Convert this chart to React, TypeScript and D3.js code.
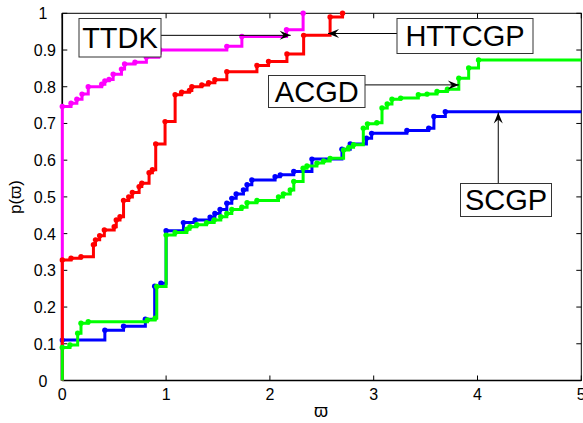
import React, { useEffect, useRef } from "react";
import * as d3 from "d3";

// performance profile data (step points)
const xTicks = [0, 1, 2, 3, 4, 5];
const yTicks = [0, 0.1, 0.2, 0.3, 0.4, 0.5, 0.6, 0.7, 0.8, 0.9, 1];

const ttdkX = [0, 0, 0.084, 0.14, 0.19, 0.25, 0.38, 0.41, 0.45, 0.49, 0.57, 0.6, 0.7, 0.81, 0.93, 0.94, 1.585, 1.73, 2.16, 2.32];
const ttdkY = [0, 0.746, 0.755, 0.766, 0.78, 0.8, 0.807, 0.816, 0.82, 0.834, 0.848, 0.862, 0.867, 0.88, 0.891, 0.9, 0.91, 0.937, 0.955, 1.0];

const httcgpX = [0, 0, 0.084, 0.18, 0.3, 0.32, 0.36, 0.405, 0.5, 0.52, 0.556, 0.59, 0.64, 0.675, 0.74, 0.766, 0.836, 0.868, 0.9, 0.99, 1.087, 1.15, 1.225, 1.248, 1.344, 1.41, 1.47, 1.585, 1.875, 1.987, 2.164, 2.325, 2.58, 2.7];
const httcgpY = [0, 0.328, 0.333, 0.337, 0.37, 0.383, 0.394, 0.41, 0.419, 0.437, 0.446, 0.49, 0.5, 0.512, 0.528, 0.537, 0.566, 0.574, 0.644, 0.705, 0.778, 0.785, 0.79, 0.8, 0.805, 0.811, 0.819, 0.841, 0.858, 0.869, 0.889, 0.94, 0.99, 1.0];

const scgpX = [0, 0, 0.41, 0.59, 0.8, 0.89, 0.95, 1.0, 1.167, 1.28, 1.424, 1.47, 1.52, 1.585, 1.633, 1.675, 1.745, 1.78, 1.826, 2.05, 2.1, 2.23, 2.405, 2.694, 2.774, 2.93, 2.98, 3.32, 3.53, 3.58, 3.69, 5];
const scgpY = [0, 0.11, 0.137, 0.148, 0.167, 0.257, 0.265, 0.408, 0.43, 0.437, 0.445, 0.455, 0.466, 0.483, 0.496, 0.508, 0.519, 0.533, 0.546, 0.555, 0.56, 0.569, 0.603, 0.63, 0.644, 0.66, 0.673, 0.681, 0.687, 0.719, 0.732, 0.732];

const acgdX = [0, 0, 0.074, 0.148, 0.18, 0.25, 0.82, 0.894, 0.91, 1.0, 1.087, 1.2, 1.23, 1.296, 1.39, 1.463, 1.527, 1.585, 1.633, 1.73, 1.78, 1.875, 2.083, 2.13, 2.196, 2.23, 2.32, 2.357, 2.453, 2.517, 2.58, 2.71, 2.76, 2.806, 2.9, 2.94, 3.03, 3.08, 3.13, 3.176, 3.26, 3.43, 3.514, 3.61, 3.71, 3.82, 3.915, 4.01, 5];
const acgdY = [0, 0.09, 0.097, 0.129, 0.156, 0.16, 0.165, 0.17, 0.256, 0.396, 0.403, 0.412, 0.419, 0.424, 0.43, 0.437, 0.446, 0.455, 0.466, 0.472, 0.484, 0.49, 0.5, 0.508, 0.519, 0.542, 0.578, 0.584, 0.592, 0.598, 0.605, 0.628, 0.635, 0.642, 0.687, 0.699, 0.702, 0.742, 0.753, 0.766, 0.769, 0.778, 0.78, 0.787, 0.793, 0.823, 0.851, 0.873, 0.873];

// annotation labels and where their arrows point (data coords)
const noteLabels = ["TTDK", "HTTCGP", "ACGD", "SCGP"];
const noteTipX = [2.2, 2.56, 3.82, 4.2];
const noteTipY = [0.94, 0.945, 0.805, 0.73];

const FONT = "'Liberation Sans', Arial, Helvetica, sans-serif";

const App = () => {
  const ref = useRef<SVGSVGElement>(null);

  useEffect(() => {
    const width = 583;
    const height = 423;
    const left = 62.3;
    const right = 581.3;
    const top = 13.3;
    const bottom = 380.5;

    const svg = d3.select(ref.current).attr("width", width).attr("height", height);
    svg.selectAll("*").remove();

    const x = d3.scaleLinear().domain([0, 5]).range([left, right]);
    const y = d3.scaleLinear().domain([0, 1]).range([bottom, top]);

    svg.append("rect").attr("width", width).attr("height", height).attr("fill", "#fff");

    // frame + inner ticks (under the data, like matlab)
    const g = svg.append("g").attr("font-family", FONT).attr("font-size", 16);
    g.append("rect")
      .attr("x", left)
      .attr("y", top)
      .attr("width", right - left)
      .attr("height", bottom - top)
      .attr("fill", "none")
      .attr("stroke", "#000")
      .attr("stroke-width", 1);
    g.append("line").attr("x1", left).attr("x2", right).attr("y1", bottom).attr("y2", bottom).attr("stroke", "#000").attr("stroke-width", 1.6);
    g.append("line").attr("x1", left).attr("x2", left).attr("y1", top).attr("y2", bottom).attr("stroke", "#000").attr("stroke-width", 1.6);

    const tl = 5;
    xTicks.forEach((t) => {
      g.append("line").attr("x1", x(t)).attr("x2", x(t)).attr("y1", bottom).attr("y2", bottom - tl).attr("stroke", "#000");
      g.append("line").attr("x1", x(t)).attr("x2", x(t)).attr("y1", top).attr("y2", top + tl).attr("stroke", "#000");
      g.append("text")
        .attr("x", x(t))
        .attr("y", 400)
        .attr("text-anchor", "middle")
        .text(String(t));
    });
    yTicks.forEach((t) => {
      g.append("line").attr("x1", left).attr("x2", left + tl).attr("y1", y(t)).attr("y2", y(t)).attr("stroke", "#000");
      g.append("line").attr("x1", right).attr("x2", right - tl).attr("y1", y(t)).attr("y2", y(t)).attr("stroke", "#000");
      const lab = d3.format("~g")(t);
      g.append("text")
        .attr("x", lab.length === 1 ? 43 : 56)
        .attr("y", y(t) + 6)
        .attr("text-anchor", lab.length === 1 ? "middle" : "end")
        .text(lab);
    });

    g.append("text").attr("x", 321).attr("y", 417).attr("text-anchor", "middle").attr("font-size", 18).text("ϖ");
    g.append("text")
      .attr("transform", "translate(21,197) rotate(-90)")
      .attr("text-anchor", "middle")
      .attr("font-size", 17)
      .text("p(ϖ)");

    // curves, drawn in the original stacking order
    const series = [
      { xs: scgpX, ys: scgpY, color: "#0000ff" },
      { xs: ttdkX, ys: ttdkY, color: "#ff00ff" },
      { xs: httcgpX, ys: httcgpY, color: "#ff0000" },
      { xs: acgdX, ys: acgdY, color: "#00ff00" },
    ];
    const line = d3
      .line<[number, number]>()
      .x((d) => x(d[0]))
      .y((d) => y(d[1]))
      .curve(d3.curveStepAfter);

    series.forEach((s) => {
      const pts: [number, number][] = s.xs.map((v, i) => [v, s.ys[i]]);
      svg
        .append("path")
        .attr("d", line(pts))
        .attr("fill", "none")
        .attr("stroke", s.color)
        .attr("stroke-width", 3);
      svg
        .append("g")
        .selectAll("circle")
        .data(pts.filter((p, i) => i > 0 && p[0] < 5))
        .enter()
        .append("circle")
        .attr("cx", (d) => x(d[0]))
        .attr("cy", (d) => y(d[1]))
        .attr("r", 2.7)
        .attr("fill", s.color);
    });

    // annotations: text box + arrow
    const boxes = [
      { x: 79, y: 18.5, w: 82, h: 38.5, dir: "right" },
      { x: 397, y: 18.5, w: 136, h: 35, dir: "left" },
      { x: 268.5, y: 75.5, w: 96.5, h: 32, dir: "right" },
      { x: 460.5, y: 183.5, w: 91, h: 33, dir: "up" },
    ];
    const head = "M0,0 L-11,-4.5 L-7,0 L-11,4.5 Z";
    const ann = svg.append("g").attr("font-family", FONT);
    noteLabels.forEach((lab, i) => {
      const b = boxes[i];
      const tx = x(noteTipX[i]);
      const ty = y(noteTipY[i]);
      let sx = b.x + b.w;
      let sy = ty;
      let ang = 0;
      if (b.dir === "left") {
        sx = b.x;
        ang = 180;
      } else if (b.dir === "up") {
        sx = tx;
        sy = b.y;
        ang = -90;
      }
      ann.append("line").attr("x1", sx).attr("y1", sy).attr("x2", tx).attr("y2", ty).attr("stroke", "#000").attr("stroke-width", 1);
      ann.append("path").attr("d", head).attr("transform", `translate(${tx},${ty}) rotate(${ang})`).attr("fill", "#000");
      ann.append("rect")
        .attr("x", b.x)
        .attr("y", b.y)
        .attr("width", b.w)
        .attr("height", b.h)
        .attr("fill", "#fff")
        .attr("stroke", "#333")
        .attr("stroke-width", 1);
      ann.append("text")
        .attr("x", b.x + b.w / 2)
        .attr("y", b.y + b.h / 2 + 10.4)
        .attr("text-anchor", "middle")
        .attr("font-size", 29)
        .text(lab);
    });
  }, []);

  return (
    <div>
      <svg ref={ref} style={{ position: "absolute", left: 0, top: 0 }}></svg>
    </div>
  );
};

export default App;
